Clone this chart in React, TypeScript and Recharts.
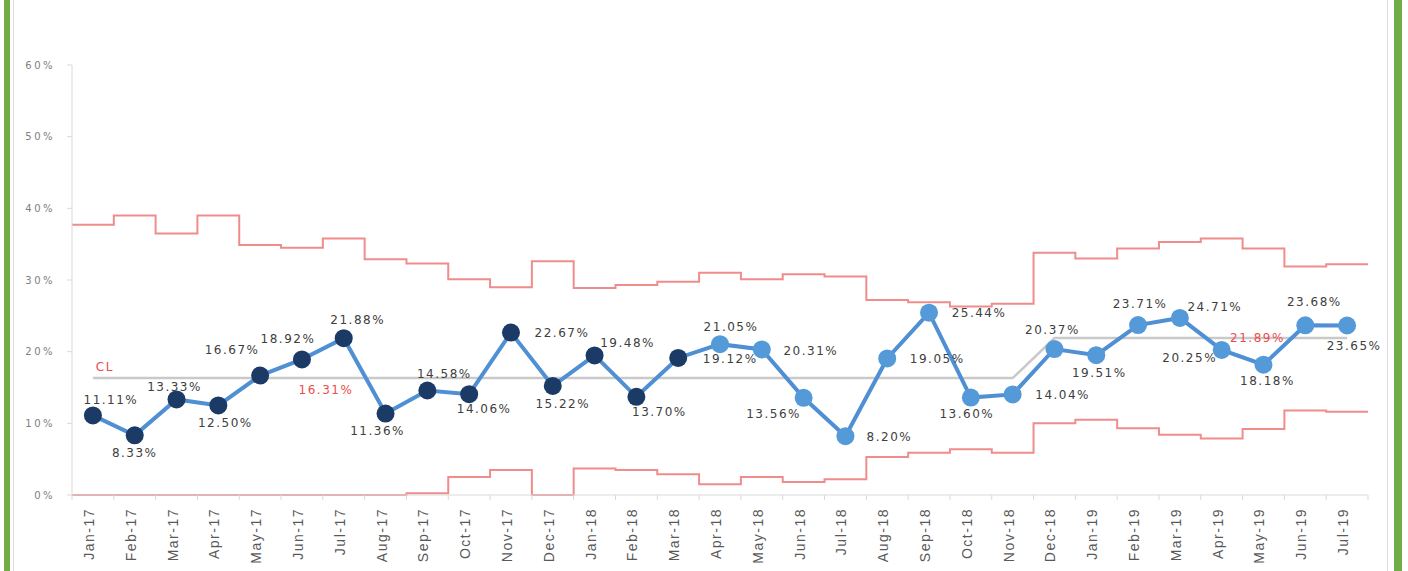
import { Line, LineChart, XAxis, YAxis } from "recharts";

const months = [
  "Jan-17", "Feb-17", "Mar-17", "Apr-17", "May-17", "Jun-17", "Jul-17", "Aug-17",
  "Sep-17", "Oct-17", "Nov-17", "Dec-17", "Jan-18", "Feb-18", "Mar-18", "Apr-18",
  "May-18", "Jun-18", "Jul-18", "Aug-18", "Sep-18", "Oct-18", "Nov-18", "Dec-18",
  "Jan-19", "Feb-19", "Mar-19", "Apr-19", "May-19", "Jun-19", "Jul-19",
];

const rate = [
  11.11, 8.33, 13.33, 12.5, 16.67, 18.92, 21.88, 11.36, 14.58, 14.06, 22.67, 15.22,
  19.48, 13.7, 19.12, 21.05, 20.31, 13.56, 8.2, 19.05, 25.44, 13.6, 14.04, 20.37,
  19.51, 23.71, 24.71, 20.25, 18.18, 23.68, 23.65,
];

const centerLine = [
  16.31, 16.31, 16.31, 16.31, 16.31, 16.31, 16.31, 16.31, 16.31, 16.31, 16.31, 16.31,
  16.31, 16.31, 16.31, 16.31, 16.31, 16.31, 16.31, 16.31, 16.31, 16.31, 16.31, 21.89,
  21.89, 21.89, 21.89, 21.89, 21.89, 21.89, 21.89,
];

const upperLimit = [
  37.7, 39.0, 36.5, 39.0, 34.9, 34.5, 35.8, 32.9, 32.3, 30.1, 29.0, 32.6,
  28.9, 29.3, 29.75, 31.0, 30.1, 30.8, 30.5, 27.2, 26.9, 26.3, 26.7, 33.8,
  33.0, 34.4, 35.3, 35.8, 34.4, 31.9, 32.2,
];

const lowerLimit = [
  0, 0, 0, 0, 0, 0, 0, 0, 0.25, 2.5, 3.5, 0,
  3.7, 3.5, 2.9, 1.5, 2.5, 1.8, 2.2, 5.3, 5.9, 6.4, 5.9, 10.0,
  10.5, 9.3, 8.4, 7.9, 9.2, 11.8, 11.6,
];

const yTicks = [0, 10, 20, 30, 40, 50, 60];

// first 15 months drawn with dark markers, the rest light
const darkUntil = 15;

// label offsets from each point (px)
const labelDx = [
  18, 0, -2, 7, -28, -14, 14, -8, 17, 15, 51, 10, 33, 23, 52, 11, 49, -30, 44, 50,
  50, -4, 50, -2, 3, 2, 35, -32, 4, 9, 7,
];
const labelDy = [
  -15, 18, -12, 18, -26, -20, -18, 17, -17, 15, 0, 18, -12, 15, 1, -17, 2, 16, 1, 1,
  0, 16, 1, -19, 18, -21, -11, 8, 16, -23, 20,
];

const clLabels: Record<number, { text: string; dx: number; dy: number }> = {
  0: { text: "CL", dx: 12, dy: -11 },
  5: { text: "16.31%", dx: 24, dy: 12 },
  28: { text: "21.89%", dx: -6, dy: 0 },
};

const rows = months.map((m, i) => ({ x: i, month: m, rate: rate[i], cl: centerLine[i] }));
const limitRows = [
  ...upperLimit.map((u, i) => ({ x: i - 0.5, ucl: u, lcl: lowerLimit[i] })),
  { x: months.length - 0.5, ucl: upperLimit[upperLimit.length - 1], lcl: lowerLimit[lowerLimit.length - 1] },
];

const HALF_BAND = 20.9;

function MonthTick(props: any) {
  const { x, y, payload, index } = props;
  const label = months[payload.value] ?? "";
  const ty = y + 13;
  return (
    <g>
      <line x1={x - HALF_BAND} y1={y} x2={x - HALF_BAND} y2={y + 5} stroke="#d9d9d9" />
      {index === months.length - 1 && (
        <line x1={x + HALF_BAND} y1={y} x2={x + HALF_BAND} y2={y + 5} stroke="#d9d9d9" />
      )}
      <text
        x={x + 1}
        y={ty}
        transform={`rotate(-90, ${x + 1}, ${ty})`}
        textAnchor="end"
        fontSize={14}
        letterSpacing={1.5}
        fontFamily="Liberation Sans, Arial, sans-serif"
        fill="#595959"
      >
        {label}
      </text>
    </g>
  );
}

function RateDot(props: any) {
  const { cx, cy, index, value } = props;
  if (cx == null || cy == null) return <g key={index} />;
  const fill = index < darkUntil ? "#1c3a66" : "#559ad8";
  return (
    <g key={index}>
      <circle cx={cx} cy={cy} r={9} fill={fill} />
      <text
        x={cx + labelDx[index]}
        y={cy + labelDy[index]}
        dy={4}
        textAnchor="middle"
        fontSize={12}
        letterSpacing={1.5}
        fontFamily="DejaVu Sans, sans-serif"
        fill="#404040"
      >
        {`${Number(value).toFixed(2)}%`}
      </text>
    </g>
  );
}

function ClDot(props: any) {
  const { cx, cy, index } = props;
  const lab = clLabels[index];
  if (!lab) return <g key={index} />;
  return (
    <text
      key={index}
      x={cx + lab.dx}
      y={cy + lab.dy}
      dy={4}
      textAnchor="middle"
      fontSize={12}
      letterSpacing={1.5}
      fontFamily="DejaVu Sans, sans-serif"
      fill="#ee4b4b"
    >
      {lab.text}
    </text>
  );
}

export default function App() {
  return (
    <div style={{ position: "absolute", left: 0, top: 0, width: 1408, height: 571, background: "#fff" }}>
      <div style={{ position: "absolute", left: 4, top: 0, width: 6, height: 571, background: "#70ad47" }} />
      <div style={{ position: "absolute", left: 13, top: 0, width: 1, height: 571, background: "#dcdcdc" }} />
      <div style={{ position: "absolute", left: 1387, top: 0, width: 1, height: 571, background: "#dcdcdc" }} />
      <div style={{ position: "absolute", left: 1394, top: 0, width: 8, height: 571, background: "#70ad47" }} />
      <LineChart
        width={1408}
        height={571}
        margin={{ top: 65, right: 40, left: 0, bottom: 0 }}
        style={{ position: "absolute", left: 0, top: 0 }}
      >
        <XAxis
          dataKey="x"
          type="number"
          domain={[-0.5, months.length - 0.5]}
          ticks={months.map((_, i) => i)}
          interval={0}
          height={76}
          tickSize={0}
          tickMargin={0}
          tickLine={false}
          axisLine={{ stroke: "#d9d9d9" }}
          tick={<MonthTick />}
          allowDuplicatedCategory={false}
        />
        <YAxis
          type="number"
          domain={[0, 60]}
          ticks={yTicks}
          width={72}
          tickSize={5}
          tickMargin={12}
          tickLine={{ stroke: "#d9d9d9" }}
          axisLine={{ stroke: "#d9d9d9" }}
          tickFormatter={(v) => `${v}%`}
          tick={{ fontSize: 10, fill: "#808080", letterSpacing: 2.5, fontFamily: "DejaVu Sans, sans-serif" }}
        />
        <Line
          data={limitRows}
          dataKey="ucl"
          type="stepAfter"
          stroke="#f08c8c"
          strokeWidth={2}
          dot={false}
          isAnimationActive={false}
        />
        <Line
          data={limitRows}
          dataKey="lcl"
          type="stepAfter"
          stroke="#f08c8c"
          strokeWidth={2}
          dot={false}
          isAnimationActive={false}
        />
        <Line
          data={rows}
          dataKey="cl"
          type="linear"
          stroke="#c9c9c9"
          strokeWidth={2.5}
          dot={<ClDot />}
          activeDot={false}
          isAnimationActive={false}
        />
        <Line
          data={rows}
          dataKey="rate"
          type="linear"
          stroke="#4f8fd3"
          strokeWidth={4}
          dot={<RateDot />}
          activeDot={false}
          isAnimationActive={false}
        />
      </LineChart>
    </div>
  );
}
